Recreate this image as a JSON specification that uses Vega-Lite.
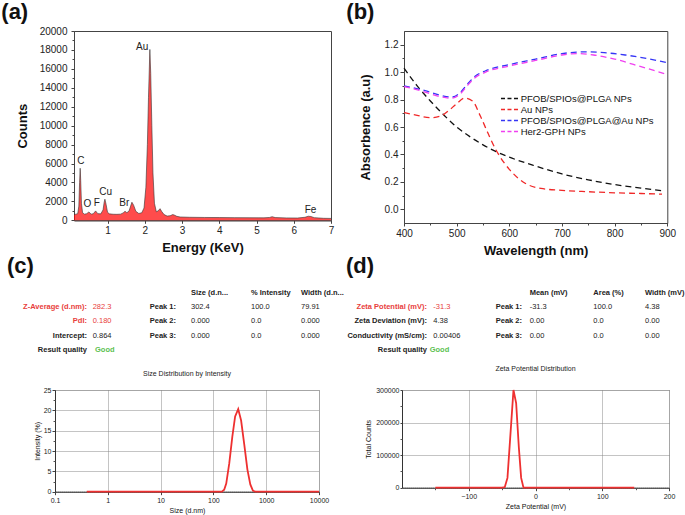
{
  "$schema": "https://vega.github.io/schema/vega-lite/v6.json",
  "background": "white",
  "padding": {"left": 0, "top": 0, "right": 5, "bottom": 5},
  "spacing": -4,
  "config": {
    "font": "Liberation Sans",
    "view": {"stroke": "#444"},
    "axis": {"labelFlush": false, "labelOverlap": false, "labelColor": "#222", "titleColor": "#111", "domainColor": "#444", "tickColor": "#444", "grid": false}
  },
  "datasets": {
    "eds": [
      {"energy": 0.10, "counts": 600}, {"energy": 0.15, "counts": 650}, {"energy": 0.20, "counts": 700},
      {"energy": 0.23, "counts": 1500}, {"energy": 0.25, "counts": 4000}, {"energy": 0.266, "counts": 5500},
      {"energy": 0.28, "counts": 4200}, {"energy": 0.30, "counts": 1800}, {"energy": 0.33, "counts": 800},
      {"energy": 0.38, "counts": 650}, {"energy": 0.44, "counts": 700}, {"energy": 0.50, "counts": 880},
      {"energy": 0.56, "counts": 650}, {"energy": 0.62, "counts": 700}, {"energy": 0.68, "counts": 990},
      {"energy": 0.74, "counts": 700}, {"energy": 0.82, "counts": 680}, {"energy": 0.88, "counts": 1100},
      {"energy": 0.91, "counts": 1900}, {"energy": 0.93, "counts": 2230}, {"energy": 0.96, "counts": 1700},
      {"energy": 1.00, "counts": 850}, {"energy": 1.05, "counts": 680}, {"energy": 1.15, "counts": 640},
      {"energy": 1.25, "counts": 630}, {"energy": 1.35, "counts": 650}, {"energy": 1.42, "counts": 780},
      {"energy": 1.47, "counts": 950}, {"energy": 1.52, "counts": 800}, {"energy": 1.58, "counts": 1000},
      {"energy": 1.62, "counts": 1500}, {"energy": 1.655, "counts": 1910}, {"energy": 1.70, "counts": 1600},
      {"energy": 1.76, "counts": 950}, {"energy": 1.84, "counts": 720}, {"energy": 1.92, "counts": 800},
      {"energy": 1.98, "counts": 1300}, {"energy": 2.03, "counts": 3500}, {"energy": 2.07, "counts": 8000},
      {"energy": 2.10, "counts": 13000}, {"energy": 2.137, "counts": 18050}, {"energy": 2.16, "counts": 15500},
      {"energy": 2.19, "counts": 10000}, {"energy": 2.22, "counts": 5000}, {"energy": 2.26, "counts": 1800},
      {"energy": 2.31, "counts": 900}, {"energy": 2.36, "counts": 1000}, {"energy": 2.41, "counts": 1230},
      {"energy": 2.46, "counts": 900}, {"energy": 2.52, "counts": 600}, {"energy": 2.60, "counts": 450},
      {"energy": 2.68, "counts": 480}, {"energy": 2.75, "counts": 600}, {"energy": 2.79, "counts": 560},
      {"energy": 2.86, "counts": 420}, {"energy": 2.95, "counts": 350}, {"energy": 3.2, "counts": 320},
      {"energy": 3.6, "counts": 300}, {"energy": 4.0, "counts": 290}, {"energy": 4.4, "counts": 280},
      {"energy": 4.8, "counts": 270}, {"energy": 5.2, "counts": 260}, {"energy": 5.35, "counts": 300},
      {"energy": 5.42, "counts": 380}, {"energy": 5.50, "counts": 290}, {"energy": 5.8, "counts": 250},
      {"energy": 6.1, "counts": 240}, {"energy": 6.3, "counts": 320}, {"energy": 6.39, "counts": 430},
      {"energy": 6.46, "counts": 400}, {"energy": 6.55, "counts": 280}, {"energy": 6.8, "counts": 210},
      {"energy": 7.0, "counts": 200}
    ],
    "edsLabels": [
      {"element": "C", "energy": 0.283, "counts": 6300},
      {"element": "O", "energy": 0.46, "counts": 1700},
      {"element": "F", "energy": 0.71, "counts": 1830},
      {"element": "Cu", "energy": 0.95, "counts": 2970},
      {"element": "Br", "energy": 1.45, "counts": 1800},
      {"element": "Au", "energy": 1.93, "counts": 18300},
      {"element": "Fe", "energy": 6.45, "counts": 1120}
    ],
    "uv": [
      {"sample": "PFOB/SPIOs@PLGA NPs", "wl": 400, "absorbance": 1.03},
      {"sample": "PFOB/SPIOs@PLGA NPs", "wl": 425, "absorbance": 0.9},
      {"sample": "PFOB/SPIOs@PLGA NPs", "wl": 450, "absorbance": 0.79},
      {"sample": "PFOB/SPIOs@PLGA NPs", "wl": 475, "absorbance": 0.69},
      {"sample": "PFOB/SPIOs@PLGA NPs", "wl": 500, "absorbance": 0.6},
      {"sample": "PFOB/SPIOs@PLGA NPs", "wl": 525, "absorbance": 0.53},
      {"sample": "PFOB/SPIOs@PLGA NPs", "wl": 550, "absorbance": 0.47},
      {"sample": "PFOB/SPIOs@PLGA NPs", "wl": 575, "absorbance": 0.42},
      {"sample": "PFOB/SPIOs@PLGA NPs", "wl": 600, "absorbance": 0.38},
      {"sample": "PFOB/SPIOs@PLGA NPs", "wl": 650, "absorbance": 0.315},
      {"sample": "PFOB/SPIOs@PLGA NPs", "wl": 700, "absorbance": 0.258},
      {"sample": "PFOB/SPIOs@PLGA NPs", "wl": 750, "absorbance": 0.215},
      {"sample": "PFOB/SPIOs@PLGA NPs", "wl": 800, "absorbance": 0.18},
      {"sample": "PFOB/SPIOs@PLGA NPs", "wl": 850, "absorbance": 0.155},
      {"sample": "PFOB/SPIOs@PLGA NPs", "wl": 890, "absorbance": 0.135},
      {"sample": "Au NPs", "wl": 400, "absorbance": 0.705},
      {"sample": "Au NPs", "wl": 425, "absorbance": 0.685},
      {"sample": "Au NPs", "wl": 450, "absorbance": 0.668},
      {"sample": "Au NPs", "wl": 470, "absorbance": 0.68},
      {"sample": "Au NPs", "wl": 485, "absorbance": 0.72},
      {"sample": "Au NPs", "wl": 500, "absorbance": 0.77},
      {"sample": "Au NPs", "wl": 515, "absorbance": 0.81},
      {"sample": "Au NPs", "wl": 530, "absorbance": 0.79},
      {"sample": "Au NPs", "wl": 545, "absorbance": 0.68},
      {"sample": "Au NPs", "wl": 560, "absorbance": 0.55},
      {"sample": "Au NPs", "wl": 575, "absorbance": 0.43},
      {"sample": "Au NPs", "wl": 590, "absorbance": 0.34},
      {"sample": "Au NPs", "wl": 605, "absorbance": 0.27},
      {"sample": "Au NPs", "wl": 630, "absorbance": 0.19},
      {"sample": "Au NPs", "wl": 660, "absorbance": 0.152},
      {"sample": "Au NPs", "wl": 700, "absorbance": 0.138},
      {"sample": "Au NPs", "wl": 750, "absorbance": 0.128},
      {"sample": "Au NPs", "wl": 800, "absorbance": 0.12},
      {"sample": "Au NPs", "wl": 850, "absorbance": 0.115},
      {"sample": "Au NPs", "wl": 890, "absorbance": 0.11},
      {"sample": "PFOB/SPIOs@PLGA@Au NPs", "wl": 400, "absorbance": 0.9},
      {"sample": "PFOB/SPIOs@PLGA@Au NPs", "wl": 440, "absorbance": 0.865},
      {"sample": "PFOB/SPIOs@PLGA@Au NPs", "wl": 470, "absorbance": 0.83},
      {"sample": "PFOB/SPIOs@PLGA@Au NPs", "wl": 490, "absorbance": 0.818},
      {"sample": "PFOB/SPIOs@PLGA@Au NPs", "wl": 505, "absorbance": 0.845},
      {"sample": "PFOB/SPIOs@PLGA@Au NPs", "wl": 520, "absorbance": 0.91},
      {"sample": "PFOB/SPIOs@PLGA@Au NPs", "wl": 535, "absorbance": 0.97},
      {"sample": "PFOB/SPIOs@PLGA@Au NPs", "wl": 555, "absorbance": 1.01},
      {"sample": "PFOB/SPIOs@PLGA@Au NPs", "wl": 600, "absorbance": 1.055},
      {"sample": "PFOB/SPIOs@PLGA@Au NPs", "wl": 650, "absorbance": 1.095},
      {"sample": "PFOB/SPIOs@PLGA@Au NPs", "wl": 700, "absorbance": 1.135},
      {"sample": "PFOB/SPIOs@PLGA@Au NPs", "wl": 740, "absorbance": 1.148},
      {"sample": "PFOB/SPIOs@PLGA@Au NPs", "wl": 780, "absorbance": 1.142},
      {"sample": "PFOB/SPIOs@PLGA@Au NPs", "wl": 820, "absorbance": 1.125},
      {"sample": "PFOB/SPIOs@PLGA@Au NPs", "wl": 860, "absorbance": 1.1},
      {"sample": "PFOB/SPIOs@PLGA@Au NPs", "wl": 898, "absorbance": 1.07},
      {"sample": "Her2-GPH NPs", "wl": 400, "absorbance": 0.895},
      {"sample": "Her2-GPH NPs", "wl": 440, "absorbance": 0.855},
      {"sample": "Her2-GPH NPs", "wl": 470, "absorbance": 0.82},
      {"sample": "Her2-GPH NPs", "wl": 490, "absorbance": 0.81},
      {"sample": "Her2-GPH NPs", "wl": 505, "absorbance": 0.835},
      {"sample": "Her2-GPH NPs", "wl": 520, "absorbance": 0.9},
      {"sample": "Her2-GPH NPs", "wl": 535, "absorbance": 0.96},
      {"sample": "Her2-GPH NPs", "wl": 555, "absorbance": 1.0},
      {"sample": "Her2-GPH NPs", "wl": 600, "absorbance": 1.045},
      {"sample": "Her2-GPH NPs", "wl": 650, "absorbance": 1.085},
      {"sample": "Her2-GPH NPs", "wl": 700, "absorbance": 1.125},
      {"sample": "Her2-GPH NPs", "wl": 730, "absorbance": 1.135},
      {"sample": "Her2-GPH NPs", "wl": 760, "absorbance": 1.125},
      {"sample": "Her2-GPH NPs", "wl": 800, "absorbance": 1.095},
      {"sample": "Her2-GPH NPs", "wl": 850, "absorbance": 1.04},
      {"sample": "Her2-GPH NPs", "wl": 898, "absorbance": 0.985}
    ],
    "tableC": [
      {"row": "h", "label": "", "value": "", "peak": "", "c1": "Size (d.n...", "c2": "% Intensity", "c3": "Width (d.n..."},
      {"row": "r1", "label": "Z-Average (d.nm):", "value": "282.3", "peak": "Peak 1:", "c1": "302.4", "c2": "100.0", "c3": "79.91"},
      {"row": "r2", "label": "PdI:", "value": "0.180", "peak": "Peak 2:", "c1": "0.000", "c2": "0.0", "c3": "0.000"},
      {"row": "r3", "label": "Intercept:", "value": "0.864", "peak": "Peak 3:", "c1": "0.000", "c2": "0.0", "c3": "0.000"},
      {"row": "r4", "label": "Result quality", "value": "Good", "peak": "", "c1": "", "c2": "", "c3": ""}
    ],
    "tableD": [
      {"row": "h", "label": "", "value": "", "peak": "", "c1": "Mean (mV)", "c2": "Area (%)", "c3": "Width (mV)"},
      {"row": "r1", "label": "Zeta Potential (mV):", "value": "-31.3", "peak": "Peak 1:", "c1": "-31.3", "c2": "100.0", "c3": "4.38"},
      {"row": "r2", "label": "Zeta Deviation (mV):", "value": "4.38", "peak": "Peak 2:", "c1": "0.00", "c2": "0.0", "c3": "0.00"},
      {"row": "r3", "label": "Conductivity (mS/cm):", "value": "0.00406", "peak": "Peak 3:", "c1": "0.00", "c2": "0.0", "c3": "0.00"},
      {"row": "r4", "label": "Result quality", "value": "Good", "peak": "", "c1": "", "c2": "", "c3": ""}
    ],
    "sizeDist": [
      {"size": 0.4, "intensity": 0}, {"size": 1, "intensity": 0}, {"size": 10, "intensity": 0},
      {"size": 100, "intensity": 0}, {"size": 145, "intensity": 0}, {"size": 160, "intensity": 0.5},
      {"size": 175, "intensity": 2}, {"size": 200, "intensity": 7}, {"size": 228, "intensity": 13.5},
      {"size": 258, "intensity": 18.5}, {"size": 295, "intensity": 20.3}, {"size": 335, "intensity": 17.5},
      {"size": 385, "intensity": 11.5}, {"size": 440, "intensity": 5.5}, {"size": 500, "intensity": 1.8},
      {"size": 560, "intensity": 0.3}, {"size": 620, "intensity": 0}, {"size": 1000, "intensity": 0},
      {"size": 10000, "intensity": 0}
    ],
    "zeta": [
      {"mv": -150, "counts": 0}, {"mv": -100, "counts": 0}, {"mv": -50, "counts": 0},
      {"mv": -46, "counts": 2000}, {"mv": -42, "counts": 30000}, {"mv": -38, "counts": 150000},
      {"mv": -33, "counts": 300000}, {"mv": -29, "counts": 260000}, {"mv": -25, "counts": 125000},
      {"mv": -21.5, "counts": 30000}, {"mv": -18, "counts": 0}, {"mv": 0, "counts": 0},
      {"mv": 100, "counts": 0}, {"mv": 148, "counts": 0}
    ]
  },
  "vconcat": [
    {
      "bounds": "flush",
      "spacing": 0,
      "hconcat": [
        {"width": 18.7, "height": 10, "data": {"values": [{}]}, "mark": {"type": "text", "text": ""}, "view": {"stroke": null}},
        {
          "width": 257, "height": 189.3,
          "title": {"text": "(a)", "anchor": "start", "frame": "group", "fontSize": 22, "fontWeight": "bold", "color": "#111", "baseline": "alphabetic", "offset": -15, "dx": -72.7},
          "resolve": {"axis": {"y": "independent"}},
          "layer": [
            {
              "data": {"name": "eds"},
              "mark": {"type": "area", "color": "#ff0000", "line": {"color": "#333", "strokeWidth": 0.6}},
              "encoding": {
                "x": {"field": "energy", "type": "quantitative", "scale": {"domain": [0.1, 7], "nice": false, "zero": false},
                  "axis": {"values": [1, 2, 3, 4, 5, 6, 7], "title": "Energy (KeV)", "labelFontSize": 10, "titleFontSize": 13, "titleFontWeight": "bold", "tickSize": 3, "labelPadding": 2, "titlePadding": 6}},
                "y": {"field": "counts", "type": "quantitative", "scale": {"domain": [0, 20000], "nice": false},
                  "axis": {"values": [0, 2000, 4000, 6000, 8000, 10000, 12000, 14000, 16000, 18000, 20000], "format": "d", "title": "Counts", "labelFontSize": 10, "titleFontSize": 13, "titleFontWeight": "bold", "tickSize": 3, "labelPadding": 4, "titlePadding": 10}}
              }
            },
            {
              "data": {"name": "edsLabels"},
              "mark": {"type": "text", "fontSize": 10, "color": "#222", "baseline": "middle"},
              "encoding": {
                "x": {"field": "energy", "type": "quantitative", "scale": {"domain": [0.1, 7], "nice": false, "zero": false},
                  "axis": {"values": [1, 2, 3, 4, 5, 6, 7], "title": "Energy (KeV)", "labelFontSize": 10, "titleFontSize": 13, "titleFontWeight": "bold", "tickSize": 3, "labelPadding": 2, "titlePadding": 6}},
                "y": {"field": "counts", "type": "quantitative", "axis": null},
                "text": {"field": "element"}
              }
            },
            {
              "data": {"name": "eds"},
              "mark": {"type": "point", "opacity": 0},
              "encoding": {
                "x": {"field": "energy", "type": "quantitative", "scale": {"domain": [0.1, 7], "nice": false, "zero": false},
                  "axis": {"values": [1, 2, 3, 4, 5, 6, 7], "title": "Energy (KeV)", "labelFontSize": 10, "titleFontSize": 13, "titleFontWeight": "bold", "tickSize": 3, "labelPadding": 2, "titlePadding": 6}},
                "y": {"field": "counts", "type": "quantitative",
                  "axis": {"orient": "left", "values": [1000, 3000, 5000, 7000, 9000, 11000, 13000, 15000, 17000, 19000], "labels": false, "title": null, "domain": false, "tickSize": 2, "grid": false}}
              }
            }
          ]
        },
        {"width": 73, "height": 10, "data": {"values": [{}]}, "mark": {"type": "text", "text": ""}, "view": {"stroke": null}},
        {
          "width": 263.3, "height": 192,
          "title": {"text": "(b)", "anchor": "start", "frame": "group", "fontSize": 22, "fontWeight": "bold", "color": "#111", "baseline": "alphabetic", "offset": -10, "dx": -57.7},
          "data": {"name": "uv"},
          "resolve": {"axis": {"x": "independent", "y": "independent"}},
          "layer": [
            {
              "mark": {"type": "line", "strokeDash": [6, 4], "strokeWidth": 1.3, "interpolate": "monotone"},
              "encoding": {
                "x": {"field": "wl", "type": "quantitative", "scale": {"domain": [400, 900], "nice": false, "zero": false},
                  "axis": {"values": [400, 500, 600, 700, 800, 900], "title": "Wavelength (nm)", "labelFontSize": 10, "titleFontSize": 13, "titleFontWeight": "bold", "tickSize": 3, "labelPadding": 2, "titlePadding": 6}},
                "y": {"field": "absorbance", "type": "quantitative", "scale": {"domain": [-0.1, 1.3], "nice": false, "zero": false},
                  "axis": {"values": [0, 0.2, 0.4, 0.6, 0.8, 1.0, 1.2], "format": ".1f", "title": "Absorbence (a.u)", "labelFontSize": 10, "titleFontSize": 13, "titleFontWeight": "bold", "tickSize": 4, "labelPadding": 2, "titlePadding": 12}},
                "color": {"field": "sample", "type": "nominal",
                  "scale": {"domain": ["PFOB/SPIOs@PLGA NPs", "Au NPs", "PFOB/SPIOs@PLGA@Au NPs", "Her2-GPH NPs"], "range": ["#111111", "#f02828", "#3535f5", "#f040f0"]},
                  "legend": {"orient": "none", "legendX": 448.2, "legendY": 61, "title": null, "labelFontSize": 9.5, "labelColor": "#111", "symbolType": "M-1.5,0H1.5", "symbolSize": 135, "symbolStrokeWidth": 1.3, "symbolDash": [4, 2.5], "labelOffset": 4.5, "rowPadding": 0, "padding": 0}}
              }
            },
            {
              "mark": {"type": "point", "opacity": 0},
              "encoding": {
                "x": {"field": "wl", "type": "quantitative",
                  "axis": {"orient": "bottom", "values": [450, 550, 650, 750, 850], "labels": false, "title": null, "domain": false, "tickSize": 2, "grid": false}},
                "y": {"field": "absorbance", "type": "quantitative",
                  "axis": {"orient": "left", "values": [0.1, 0.3, 0.5, 0.7, 0.9, 1.1], "labels": false, "title": null, "domain": false, "tickSize": 2, "grid": false}}
              }
            }
          ]
        }
      ]
    },
    {
      "bounds": "flush",
      "spacing": 83,
      "hconcat": [
        {
          "width": 264, "height": 82.4,
          "view": {"stroke": null},
          "title": {"text": "(c)", "anchor": "start", "frame": "group", "fontSize": 22, "fontWeight": "bold", "color": "#111", "baseline": "alphabetic", "offset": -9.5, "dx": -48},
          "data": {"name": "tableC"},
          "encoding": {"y": {"field": "row", "type": "nominal", "scale": {"type": "point", "domain": ["h", "r1", "r2", "r3", "r4"], "range": [7.6, 65.3], "padding": 0}, "axis": null}},
          "layer": [
            {"transform": [{"filter": "datum.row != 'h'"}],
             "mark": {"type": "text", "align": "right", "baseline": "middle", "fontSize": 7.5, "fontWeight": "bold"},
             "encoding": {"x": {"datum": "label", "type": "nominal", "scale": {"type": "point", "domain": ["label", "value", "peak", "c1", "c2", "c3"], "range": [32, 246], "padding": 0}, "axis": null},
               "text": {"field": "label"},
               "color": {"condition": {"test": "datum.row == 'r1' || datum.row == 'r2'", "value": "#e8403c"}, "value": "#222"}}},
            {"transform": [{"filter": "datum.row != 'h' && datum.row != 'r4'"}],
             "mark": {"type": "text", "align": "left", "baseline": "middle", "fontSize": 7.5, "dx": -37.1},
             "encoding": {"x": {"datum": "value", "type": "nominal", "scale": {"type": "point", "domain": ["label", "value", "peak", "c1", "c2", "c3"], "range": [32, 246], "padding": 0}, "axis": null},
               "text": {"field": "value"},
               "color": {"condition": {"test": "datum.row == 'r1' || datum.row == 'r2'", "value": "#e8403c"}, "value": "#222"}}},
            {"transform": [{"filter": "datum.row == 'r4'"}],
             "mark": {"type": "text", "align": "left", "baseline": "middle", "fontSize": 7.5, "fontWeight": "bold", "color": "#5cbf50", "dx": -34.8},
             "encoding": {"x": {"datum": "value", "type": "nominal", "axis": null}, "text": {"field": "value"}}},
            {"transform": [{"filter": "datum.peak != ''"}],
             "mark": {"type": "text", "align": "right", "baseline": "middle", "fontSize": 7.5, "fontWeight": "bold", "color": "#222", "dx": 3.4},
             "encoding": {"x": {"datum": "peak", "type": "nominal", "axis": null}, "text": {"field": "peak"}}},
            {"transform": [{"filter": "datum.row != 'h' && datum.c1 != ''"}],
             "mark": {"type": "text", "align": "left", "baseline": "middle", "fontSize": 7.5, "color": "#222", "dx": -24.4},
             "encoding": {"x": {"datum": "c1", "type": "nominal", "axis": null}, "text": {"field": "c1"}}},
            {"transform": [{"filter": "datum.row != 'h' && datum.c2 != ''"}],
             "mark": {"type": "text", "align": "left", "baseline": "middle", "fontSize": 7.5, "color": "#222", "dx": -7.2},
             "encoding": {"x": {"datum": "c2", "type": "nominal", "axis": null}, "text": {"field": "c2"}}},
            {"transform": [{"filter": "datum.row != 'h' && datum.c3 != ''"}],
             "mark": {"type": "text", "align": "left", "baseline": "middle", "fontSize": 7.5, "color": "#222", "dx": 0},
             "encoding": {"x": {"datum": "c3", "type": "nominal", "axis": null}, "text": {"field": "c3"}}},
            {"transform": [{"filter": "datum.row == 'h'"}],
             "mark": {"type": "text", "align": "left", "baseline": "middle", "fontSize": 7.5, "fontWeight": "bold", "color": "#222", "dx": -24.4},
             "encoding": {"x": {"datum": "c1", "type": "nominal", "axis": null}, "text": {"field": "c1"}}},
            {"transform": [{"filter": "datum.row == 'h'"}],
             "mark": {"type": "text", "align": "left", "baseline": "middle", "fontSize": 7.5, "fontWeight": "bold", "color": "#222", "dx": -7.2},
             "encoding": {"x": {"datum": "c2", "type": "nominal", "axis": null}, "text": {"field": "c2"}}},
            {"transform": [{"filter": "datum.row == 'h'"}],
             "mark": {"type": "text", "align": "left", "baseline": "middle", "fontSize": 7.5, "fontWeight": "bold", "color": "#222", "dx": 0},
             "encoding": {"x": {"datum": "c3", "type": "nominal", "axis": null}, "text": {"field": "c3"}}}
          ]
        },
        {
          "width": 267, "height": 82.4,
          "view": {"stroke": null},
          "title": {"text": "(d)", "anchor": "start", "frame": "group", "fontSize": 22, "fontWeight": "bold", "color": "#111", "baseline": "alphabetic", "offset": -9.5, "dx": -56},
          "data": {"name": "tableD"},
          "encoding": {"y": {"field": "row", "type": "nominal", "scale": {"type": "point", "domain": ["h", "r1", "r2", "r3", "r4"], "range": [7.6, 65.3], "padding": 0}, "axis": null}},
          "layer": [
            {"transform": [{"filter": "datum.row != 'h'"}],
             "mark": {"type": "text", "align": "right", "baseline": "middle", "fontSize": 7.5, "fontWeight": "bold"},
             "encoding": {"x": {"datum": "label", "type": "nominal", "scale": {"type": "point", "domain": ["label", "value", "peak", "c1", "c2", "c3"], "range": [25, 243], "padding": 0}, "axis": null},
               "text": {"field": "label"},
               "color": {"condition": {"test": "datum.row == 'r1'", "value": "#e8403c"}, "value": "#222"}}},
            {"transform": [{"filter": "datum.row != 'h' && datum.row != 'r4'"}],
             "mark": {"type": "text", "align": "left", "baseline": "middle", "fontSize": 7.5, "dx": -37.3},
             "encoding": {"x": {"datum": "value", "type": "nominal", "scale": {"type": "point", "domain": ["label", "value", "peak", "c1", "c2", "c3"], "range": [25, 243], "padding": 0}, "axis": null},
               "text": {"field": "value"},
               "color": {"condition": {"test": "datum.row == 'r1'", "value": "#e8403c"}, "value": "#222"}}},
            {"transform": [{"filter": "datum.row == 'r4'"}],
             "mark": {"type": "text", "align": "left", "baseline": "middle", "fontSize": 7.5, "fontWeight": "bold", "color": "#5cbf50", "dx": -40.9},
             "encoding": {"x": {"datum": "value", "type": "nominal", "axis": null}, "text": {"field": "value"}}},
            {"transform": [{"filter": "datum.peak != ''"}],
             "mark": {"type": "text", "align": "right", "baseline": "middle", "fontSize": 7.5, "fontWeight": "bold", "color": "#222", "dx": 7.8},
             "encoding": {"x": {"datum": "peak", "type": "nominal", "axis": null}, "text": {"field": "peak"}}},
            {"transform": [{"filter": "datum.row != 'h' && datum.c1 != ''"}],
             "mark": {"type": "text", "align": "left", "baseline": "middle", "fontSize": 7.5, "color": "#222", "dx": -28.1},
             "encoding": {"x": {"datum": "c1", "type": "nominal", "axis": null}, "text": {"field": "c1"}}},
            {"transform": [{"filter": "datum.row != 'h' && datum.c2 != ''"}],
             "mark": {"type": "text", "align": "left", "baseline": "middle", "fontSize": 7.5, "color": "#222", "dx": -8.1},
             "encoding": {"x": {"datum": "c2", "type": "nominal", "axis": null}, "text": {"field": "c2"}}},
            {"transform": [{"filter": "datum.row != 'h' && datum.c3 != ''"}],
             "mark": {"type": "text", "align": "left", "baseline": "middle", "fontSize": 7.5, "color": "#222", "dx": 0},
             "encoding": {"x": {"datum": "c3", "type": "nominal", "axis": null}, "text": {"field": "c3"}}},
            {"transform": [{"filter": "datum.row == 'h'"}],
             "mark": {"type": "text", "align": "left", "baseline": "middle", "fontSize": 7.5, "fontWeight": "bold", "color": "#222", "dx": -28.1},
             "encoding": {"x": {"datum": "c1", "type": "nominal", "axis": null}, "text": {"field": "c1"}}},
            {"transform": [{"filter": "datum.row == 'h'"}],
             "mark": {"type": "text", "align": "left", "baseline": "middle", "fontSize": 7.5, "fontWeight": "bold", "color": "#222", "dx": -8.1},
             "encoding": {"x": {"datum": "c2", "type": "nominal", "axis": null}, "text": {"field": "c2"}}},
            {"transform": [{"filter": "datum.row == 'h'"}],
             "mark": {"type": "text", "align": "left", "baseline": "middle", "fontSize": 7.5, "fontWeight": "bold", "color": "#222", "dx": 0},
             "encoding": {"x": {"datum": "c3", "type": "nominal", "axis": null}, "text": {"field": "c3"}}}
          ]
        }
      ]
    },
    {
      "bounds": "flush",
      "spacing": 83,
      "hconcat": [
        {
          "width": 264, "height": 101.7,
          "title": {"text": "Size Distribution by Intensity", "fontSize": 7, "fontWeight": "normal", "color": "#222", "baseline": "alphabetic", "offset": 3, "frame": "group", "anchor": "middle"},
          "view": {"stroke": "#888", "strokeDash": [1, 1]},
          "data": {"name": "sizeDist"},
          "resolve": {"axis": {"y": "independent"}},
          "layer": [
            {
              "mark": {"type": "line", "color": "#ee3030", "strokeWidth": 1.8},
              "encoding": {
                "x": {"field": "size", "type": "quantitative", "scale": {"type": "log", "domain": [0.1, 10000], "nice": false},
                  "axis": {"values": [0.1, 1, 10, 100, 1000, 10000], "format": "~g", "title": "Size (d.nm)", "grid": true, "gridColor": "#888", "gridDash": [1, 1], "labelFontSize": 7, "titleFontSize": 7, "titleFontWeight": "normal", "tickSize": 3, "labelPadding": 2, "titlePadding": 3, "domainColor": "#333"}},
                "y": {"field": "intensity", "type": "quantitative", "scale": {"domain": [0, 25], "nice": false},
                  "axis": {"values": [0, 5, 10, 15, 20, 25], "title": "Intensity (%)", "grid": true, "gridColor": "#888", "gridDash": [1, 1], "labelFontSize": 7, "titleFontSize": 7, "titleFontWeight": "normal", "tickSize": 3, "labelPadding": 1, "titlePadding": 3, "domainColor": "#333"}}
              }
            },
            {
              "mark": {"type": "point", "opacity": 0},
              "encoding": {
                "x": {"field": "size", "type": "quantitative", "scale": {"type": "log", "domain": [0.1, 10000], "nice": false},
                  "axis": {"values": [0.1, 1, 10, 100, 1000, 10000], "format": "~g", "title": "Size (d.nm)", "grid": true, "gridColor": "#888", "gridDash": [1, 1], "labelFontSize": 7, "titleFontSize": 7, "titleFontWeight": "normal", "tickSize": 3, "labelPadding": 2, "titlePadding": 3, "domainColor": "#333"}},
                "y": {"field": "intensity", "type": "quantitative",
                  "axis": {"orient": "left", "values": [2.5, 7.5, 12.5, 17.5, 22.5], "labels": false, "title": null, "domain": false, "tickSize": 2, "grid": false, "tickColor": "#555"}}
              }
            }
          ]
        },
        {
          "width": 267, "height": 97.7,
          "title": {"text": "Zeta Potential Distribution", "fontSize": 7, "fontWeight": "normal", "color": "#222", "baseline": "alphabetic", "offset": 8, "frame": "group", "anchor": "middle"},
          "view": {"stroke": "#888", "strokeDash": [1, 1]},
          "data": {"name": "zeta"},
          "resolve": {"axis": {"x": "independent", "y": "independent"}},
          "layer": [
            {
              "mark": {"type": "line", "color": "#ee3030", "strokeWidth": 1.8},
              "encoding": {
                "x": {"field": "mv", "type": "quantitative", "scale": {"domain": [-200, 200], "nice": false},
                  "axis": {"values": [-100, 0, 100, 200], "title": "Zeta Potential (mV)", "grid": true, "gridColor": "#888", "gridDash": [1, 1], "labelFontSize": 7, "titleFontSize": 7, "titleFontWeight": "normal", "tickSize": 3, "labelPadding": 2, "titlePadding": 3, "domainColor": "#333"}},
                "y": {"field": "counts", "type": "quantitative", "scale": {"domain": [0, 300000], "nice": false},
                  "axis": {"values": [0, 100000, 200000, 300000], "format": "d", "title": "Total Counts", "grid": true, "gridColor": "#888", "gridDash": [1, 1], "labelFontSize": 7, "titleFontSize": 7, "titleFontWeight": "normal", "tickSize": 2, "labelPadding": 1, "titlePadding": 4, "domainColor": "#333"}}
              }
            },
            {
              "mark": {"type": "point", "opacity": 0},
              "encoding": {
                "x": {"field": "mv", "type": "quantitative",
                  "axis": {"orient": "bottom", "values": [-150, -50, 50, 150], "labels": false, "title": null, "domain": false, "tickSize": 2, "grid": false, "tickColor": "#555"}},
                "y": {"field": "counts", "type": "quantitative",
                  "axis": {"orient": "left", "values": [50000, 150000, 250000], "labels": false, "title": null, "domain": false, "tickSize": 2, "grid": false, "tickColor": "#555"}}
              }
            }
          ]
        }
      ]
    }
  ]
}
